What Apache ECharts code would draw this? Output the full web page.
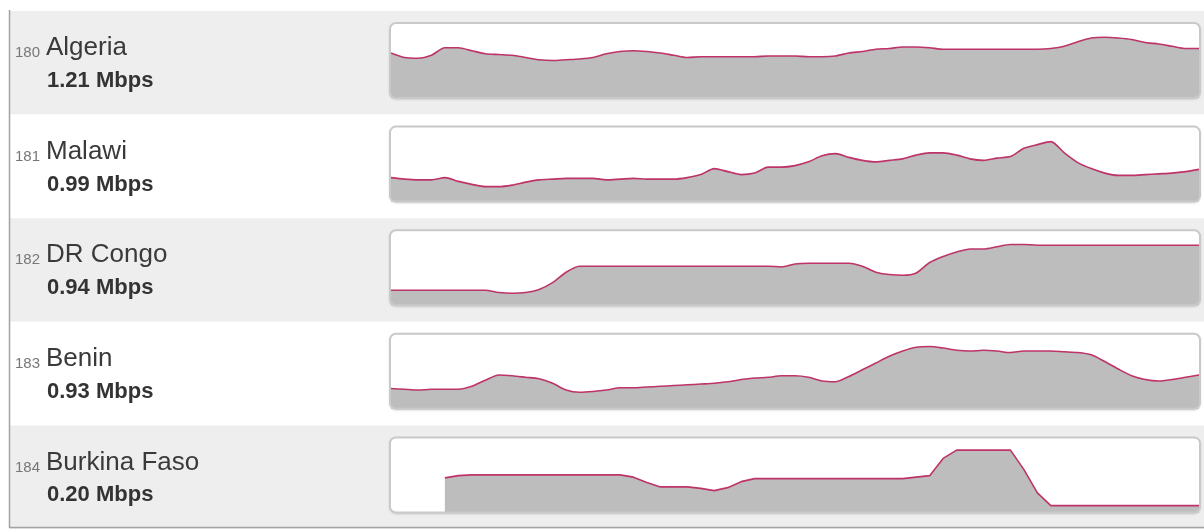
<!DOCTYPE html>
<html>
<head>
<meta charset="utf-8">
<script src="https://cdn.jsdelivr.net/npm/echarts@6/dist/echarts.min.js"></script>
<style>
html,body{margin:0;padding:0;background:#fff;}
#chart{width:1204px;height:531px;}
</style>
</head>
<body>
<div id="chart"></div>
<script>
var ranks=['180','181','182','183','184'];
var countries=['Algeria','Malawi','DR Congo','Benin','Burkina Faso'];
var speeds=['1.21 Mbps','0.99 Mbps','0.94 Mbps','0.93 Mbps','0.20 Mbps'];

// speed history, relative to the height of each sparkline (0-100)
var algeria=[60,54,53,57,67,67,63,59,58,57,54,51,50,51,52,54,59,62,63,62,60,57,54,55,55,55,55,55,56,56,
	56,55,55,56,60,62,65,66,68,68,67,65,65,65,65,65,65,65,65,66,69,75,80,81,80,78,74,72,69,66,66];
var malawi=[32,30,29,29,32,27,23,20,20,22,26,29,30,31,31,31,29,30,31,30,30,30,32,36,44,40,36,38,46,46,
	48,53,61,64,59,55,53,55,57,62,65,65,62,57,55,58,60,71,76,80,65,52,44,38,35,35,36,37,38,40,43];
var drCongo=[20,20,20,20,20,20,20,20,17,16,17,21,30,44,52,52,52,52,52,52,52,52,52,52,52,52,52,52,52,51,
	55,56,56,56,56,52,44,41,40,43,57,65,71,75,75,78,81,81,80,80,80,80,80,80,80,80,80,80,80,80,80];
var benin=[27,26,25,26,26,26,30,38,45,44,42,40,34,25,22,23,25,28,28,29,30,31,32,33,34,36,39,41,42,44,
	44,42,37,36,43,52,61,70,77,82,83,81,78,77,78,77,75,77,77,77,76,75,72,63,53,44,39,37,39,42,45];
var burkinaFaso=[null,null,null,null,46,49,50,50,50,50,50,50,50,50,50,50,50,50,47,40,34,34,34,32,29,33,41,45,45,45,
	45,45,45,45,45,45,45,45,45,47,49,72,83,83,83,83,83,57,26,9,9,9,9,9,9,9,9,9,9,9,9];

var speedHistory=[algeria,malawi,drCongo,benin,burkinaFaso];
var weeks=[];
for(var i=0;i<algeria.length;i++){weeks.push(i+1);}

var chart=echarts.init(document.getElementById('chart'));

var rowTop=11,rowH=103.6;
var boxLeft=390,boxW=810,boxTop=23,boxH=75;

var grids=[],xAxes=[],yAxes=[],series=[],graphics=[];

for(var k=0;k<5;k++){
	var ry=rowTop+k*rowH;
	var by=boxTop+k*rowH;
	//行背景
	graphics.push({type:'rect',z:-10,shape:{x:10,y:ry,width:1194,height:rowH},
		style:{fill:(k%2==0)?'#eeeeee':'#ffffff'}});
	//sparkline 外框
	graphics.push({type:'rect',z:-5,shape:{x:boxLeft,y:by,width:boxW,height:boxH,r:6},
		style:{fill:'#ffffff',shadowBlur:3,shadowOffsetY:1,shadowColor:'rgba(0,0,0,0.25)'}});
	graphics.push({type:'rect',z:100,shape:{x:boxLeft,y:by,width:boxW,height:boxH,r:6},
		style:{fill:'none',stroke:'#c9c9c9',lineWidth:2}});
	//文字
	graphics.push({type:'text',z:5,x:15,y:ry+42,
		style:{text:ranks[k],fill:'#777',font:'15px "Liberation Sans", Arial, sans-serif',verticalAlign:'middle'}});
	graphics.push({type:'text',z:5,x:46,y:ry+37,
		style:{text:countries[k],fill:'#3a3a3a',font:'26px "Liberation Sans", Arial, sans-serif',verticalAlign:'middle'}});
	graphics.push({type:'text',z:5,x:47,y:ry+70,
		style:{text:speeds[k],fill:'#333',font:'bold 22px "Liberation Sans", Arial, sans-serif',verticalAlign:'middle'}});

	grids.push({left:boxLeft+1,top:by,width:boxW-2,height:boxH,containLabel:false});
	xAxes.push({type:'category',gridIndex:k,data:weeks,boundaryGap:false,show:false});
	yAxes.push({type:'value',gridIndex:k,min:0,max:100,show:false});
	series.push({
		name:countries[k],
		type:'line',
		xAxisIndex:k,
		yAxisIndex:k,
		data:speedHistory[k],
		symbol:'none',
		smooth:(k==4)?false:0.25,
		z:10,
		lineStyle:{color:'#be3368',width:1.6},
		areaStyle:{color:'#bdbdbd',opacity:1}
	});
}

//左边框和下边框
graphics.push({type:'line',z:50,shape:{x1:9.5,y1:10,x2:9.5,y2:528},style:{stroke:'#a3a3a3',lineWidth:1.5}});
graphics.push({type:'line',z:50,shape:{x1:9,y1:527.5,x2:1204,y2:527.5},style:{stroke:'#a3a3a3',lineWidth:1.5}});

var option={
	animation:false,
	backgroundColor:'#ffffff',
	grid:grids,
	xAxis:xAxes,
	yAxis:yAxes,
	graphic:{elements:graphics},
	series:series
};
chart.setOption(option);
</script>
</body>
</html>
